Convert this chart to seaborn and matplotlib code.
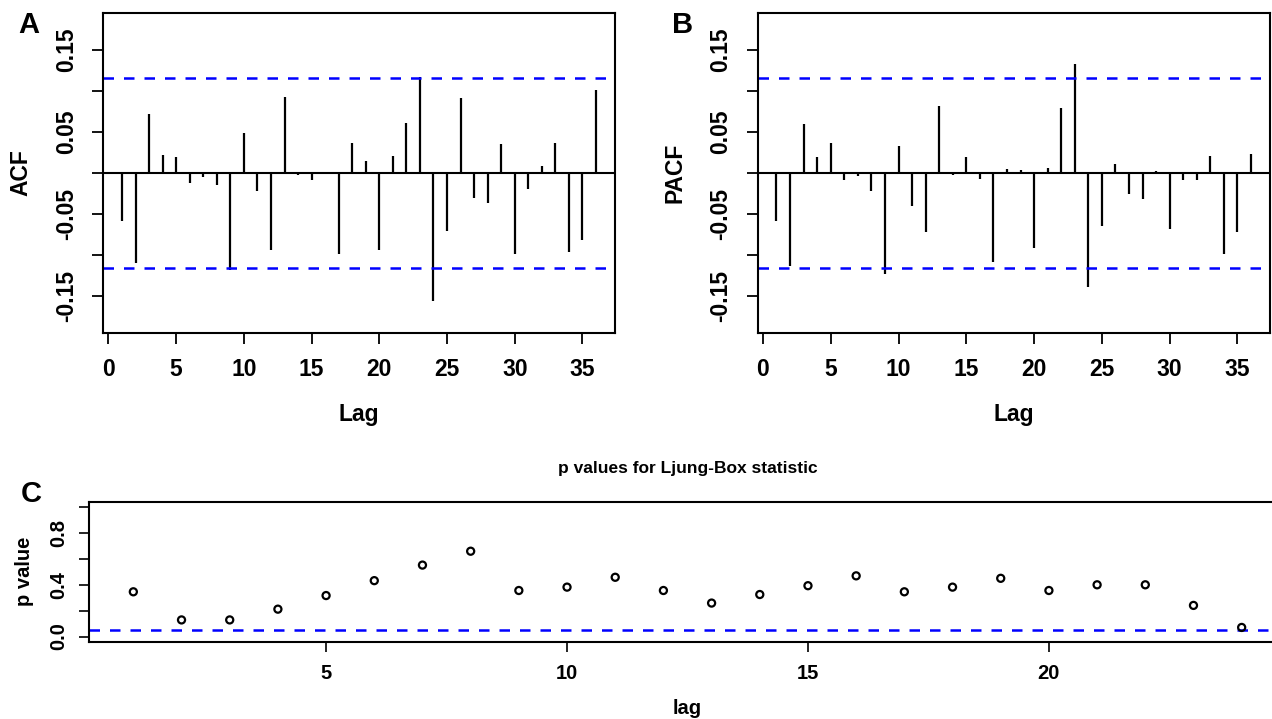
import numpy as np
import pandas as pd
import seaborn as sns
import matplotlib.pyplot as plt

# residual diagnostics: ACF / PACF up to lag 36, Ljung-Box p values up to lag 24
lags = list(range(1, 37))
acf_vals = [-0.058, -0.109, 0.072, 0.022, 0.019, -0.012, -0.005, -0.015, -0.118, 0.049,
            -0.022, -0.093, 0.092, -0.003, -0.009, 0.0, -0.099, 0.036, 0.015, -0.094,
            0.021, 0.061, 0.117, -0.155, -0.070, 0.091, -0.030, -0.036, 0.035, -0.099,
            -0.020, 0.008, 0.036, -0.096, -0.081, 0.101]
pacf_vals = [-0.058, -0.113, 0.059, 0.019, 0.036, -0.009, -0.004, -0.022, -0.123, 0.033,
             -0.040, -0.072, 0.082, -0.003, 0.019, -0.007, -0.108, 0.005, 0.004, -0.091,
             0.006, 0.079, 0.132, -0.139, -0.064, 0.011, -0.025, -0.031, 0.002, -0.068,
             -0.008, -0.009, 0.021, -0.099, -0.072, 0.023]
ci_bound = 0.116

lb_lags = list(range(1, 25))
lb_pvalues = [0.345, 0.128, 0.128, 0.211, 0.316, 0.431, 0.551, 0.658, 0.355, 0.381,
              0.457, 0.355, 0.258, 0.324, 0.392, 0.468, 0.345, 0.381, 0.449, 0.355,
              0.399, 0.399, 0.240, 0.070]
lb_threshold = 0.05

sns.set_style("ticks")
plt.rcParams['font.family'] = ['Liberation Sans', 'DejaVu Sans']
plt.rcParams['font.weight'] = 'bold'
plt.rcParams['axes.linewidth'] = 1.5
for key in ['text.color', 'axes.labelcolor', 'xtick.color', 'ytick.color', 'axes.edgecolor']:
    plt.rcParams[key] = 'black'

W, H = 1272, 719
fig = plt.figure(figsize=(W / 100, H / 100), dpi=100)


def place(left, right, top, bottom):
    # pixel box -> figure fraction
    return fig.add_axes([left / W, 1 - bottom / H, (right - left) / W, (bottom - top) / H])


BLUE = "#0000ff"
DASH = (0, (4.2, 4.0))


def correlogram(ax, vals, ylabel, letter, letter_x):
    df = pd.DataFrame({"lag": lags, "value": vals})
    ax.vlines(df["lag"], 0, df["value"], color="black", lw=1.6)
    ax.axhline(0, color="black", lw=1.5)
    for c in (ci_bound, -ci_bound):
        ax.axhline(c, color=BLUE, lw=1.8, ls=DASH)
    ax.set_xlim(-0.4, 37.4)
    ax.set_ylim(-0.1944, 0.1944)
    yt = [-0.15, -0.10, -0.05, 0.0, 0.05, 0.10, 0.15]
    ax.set_yticks(yt)
    ax.set_yticklabels(["-0.15", "", "-0.05", "", "0.05", "", "0.15"],
                       rotation=90, va="center", fontsize=16.5, fontweight="bold")
    ax.set_xticks(range(0, 36, 5))
    ax.set_xticklabels([str(t) for t in range(0, 36, 5)], fontsize=16.5, fontweight="bold")
    ax.tick_params(axis="both", length=8, width=1.3)
    ax.tick_params(axis="y", pad=10)
    ax.tick_params(axis="x", pad=10)
    ax.set_ylabel(ylabel, fontsize=16.5, fontweight="bold", va="center")
    ax.yaxis.set_label_coords(-82 / 512, 0.5)
    ax.set_xlabel("Lag", fontsize=16.5, fontweight="bold", va="center")
    ax.xaxis.set_label_coords(0.5, -82 / 320)
    fig.text(letter_x / W, 1 - 25 / H, letter, fontsize=21, fontweight="bold",
             ha="center", va="center")


ax_a = place(103, 615, 13, 333)
correlogram(ax_a, acf_vals, "ACF", "A", 29)
ax_b = place(757.5, 1270, 13, 333)
correlogram(ax_b, pacf_vals, "PACF", "B", 683)

# Ljung-Box p values
ax_c = place(89, 1286, 501.7, 641.7)
lb = pd.DataFrame({"lag": lb_lags, "p": lb_pvalues})
sns.scatterplot(data=lb, x="lag", y="p", ax=ax_c, marker="o", s=26,
                facecolors="none", edgecolor="black", linewidth=1.6, zorder=3)
ax_c.axhline(lb_threshold, color=BLUE, lw=1.8, ls=DASH)
ax_c.set_xlim(0.08, 24.92)
ax_c.set_ylim(-0.04, 1.04)
ax_c.set_yticks([0.0, 0.2, 0.4, 0.6, 0.8, 1.0])
ax_c.set_yticklabels(["0.0", "", "0.4", "", "0.8", ""], rotation=90, va="center",
                     fontsize=14.5, fontweight="bold")
ax_c.set_xticks([5, 10, 15, 20])
ax_c.set_xticklabels(["5", "10", "15", "20"], fontsize=14.5, fontweight="bold")
ax_c.tick_params(axis="both", length=7, width=1.2)
ax_c.tick_params(axis="y", pad=8)
ax_c.tick_params(axis="x", pad=9)
ax_c.set_ylabel("p value", fontsize=14.5, fontweight="bold", va="center")
ax_c.yaxis.set_label_coords(-64 / 1197, 0.5)
ax_c.set_xlabel("lag", fontsize=14.5, fontweight="bold", va="center")
ax_c.xaxis.set_label_coords((687 - 89) / 1197, -(708 - 641.7) / 140)
ax_c.set_title("p values for Ljung-Box statistic", fontsize=12.5, fontweight="bold", pad=21)
fig.text(31 / W, 1 - 494 / H, "C", fontsize=21, fontweight="bold", ha="center", va="center")

plt.savefig("out.png", dpi=100)
